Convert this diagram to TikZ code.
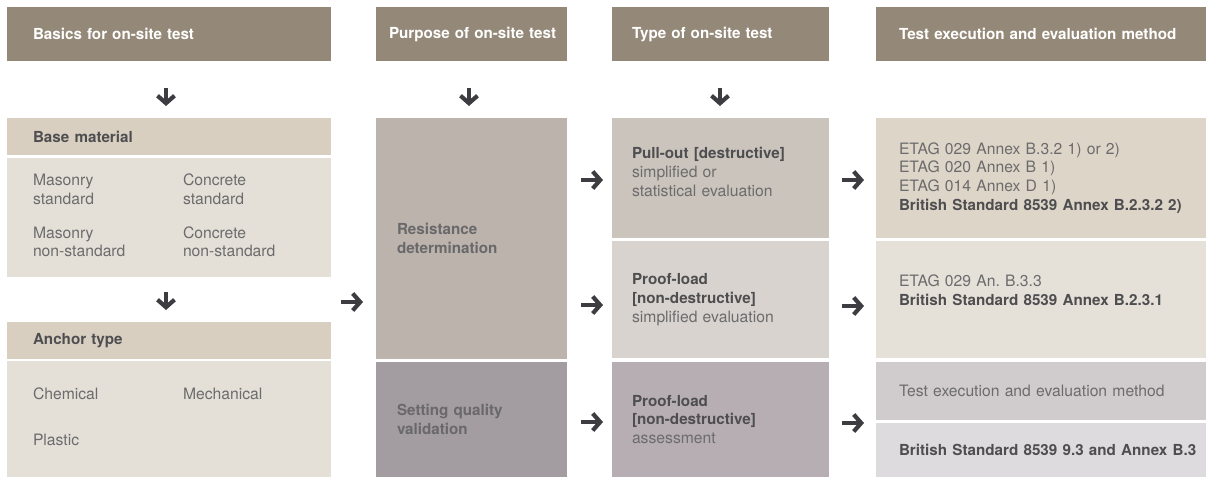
\documentclass[tikz,border=0pt]{standalone}
\usepackage{fontspec}
\setmainfont{TeX Gyre Heros}
\usetikzlibrary{arrows.meta,positioning}

\definecolor{headcol}{HTML}{948878}
\definecolor{basehead}{HTML}{D8CFC0}
\definecolor{basebody}{HTML}{E4E0D8}
\definecolor{resist}{HTML}{BBB3AC}
\definecolor{setting}{HTML}{A39CA0}
\definecolor{pull}{HTML}{CBC4BD}
\definecolor{proofA}{HTML}{D8D3CE}
\definecolor{proofB}{HTML}{B6AEB2}
\definecolor{etagA}{HTML}{DDD5C8}
\definecolor{etagB}{HTML}{E5E1D8}
\definecolor{bsA}{HTML}{D0CCCD}
\definecolor{bsB}{HTML}{DDDBDD}
\definecolor{txtdark}{HTML}{4E4D50}
\definecolor{txtlight}{HTML}{6C6B6D}
\definecolor{arrcol}{HTML}{3D3C40}

\newcommand{\bt}[1]{\textcolor{txtdark}{\fontsize{15.2}{18.7}\selectfont\bfseries #1}}
\newcommand{\oneline}[1]{\makebox[\linewidth][l]{#1}}

\begin{document}
\frenchspacing
\begin{tikzpicture}[x=1pt, y=-1pt, font=\fontsize{15.7}{18.7}\selectfont,
	box/.style={anchor=north west, inner ysep=0pt, outer sep=0pt, align=left, text=txtlight},
	head/.style={box, fill=headcol, minimum height=54pt, text=white, font=\fontsize{15.2}{18.7}\selectfont\bfseries},
	colA/.style={minimum width=324pt, text width=272pt, inner xsep=26pt},
	colB/.style={minimum width=191pt, text width=149pt, inner xsep=21pt},
	colC/.style={minimum width=217pt, text width=177pt, inner xsep=20pt},
	colD/.style={minimum width=330pt, text width=284pt, inner xsep=23pt},
	purp/.style={box, colB, text=txtdark!85, font=\fontsize{15.2}{18.7}\selectfont\bfseries},
	arr/.style={line width=4.2pt, draw=arrcol, -{Straight Barb[length=7.5pt, width=17pt]}}]
	\useasboundingbox (0,0) rectangle (1206,477);

	% column heads
	\node[head, colA] (hbasics) at (7,7) {Basics for on-site test};
	\node[head, colB, inner xsep=13pt, text width=165pt] (hpurpose) at (376,7) {\oneline{Purpose of on-site test}};
	\node[head, colC] (htype) at (612,7) {Type of on-site test};
	\node[head, colD] (hexec) at (876,7) {Test execution and evaluation method};

	% basics
	\node[box, colA, fill=basehead, minimum height=37pt] (basemat) at (7,118) {\bt{Base material}};
	\node[box, colA, fill=basebody, minimum height=119pt] (basemats) at (7,158)
		{\begin{tabular}{@{}p{150pt}@{}l@{}}
		Masonry & Concrete\\ standard & standard\\[15pt]
		Masonry & Concrete\\ non-standard & non-standard
		\end{tabular}};
	\node[box, colA, fill=basehead, minimum height=37pt] (anchor) at (7,322) {\bt{Anchor type}};
	\node[box, colA, fill=basebody, minimum height=116pt] (anchors) at (7,361)
		{\begin{tabular}{@{}p{150pt}@{}l@{}}
		Chemical & Mechanical\\[27pt]
		Plastic &
		\end{tabular}};

	% purpose
	\node[purp, fill=resist, minimum height=241pt] (resist) at (376,118) {Resistance\\determination};
	\node[purp, fill=setting, minimum height=115pt] (setting) at (376,362) {Setting quality\\validation};

	% type
	\node[box, colC, fill=pull, minimum height=120pt] (pull) at (612,118)
		{\bt{Pull-out [destructive]}\\simplified or\\statistical evaluation\\[-6.7pt]\mbox{}};
	\node[box, colC, fill=proofA, minimum height=117pt] (proofa) at (612,241)
		{\bt{Proof-load}\\\bt{[non-destructive]}\\simplified evaluation};
	\node[box, colC, fill=proofB, minimum height=115pt] (proofb) at (612,362)
		{\bt{Proof-load}\\\bt{[non-destructive]}\\assessment};

	% execution
	\node[box, colD, fill=etagA, minimum height=120pt] (etaga) at (876,118)
		{ETAG 029 Annex B.3.2 1) or 2)\\ETAG 020 Annex B 1)\\ETAG 014 Annex D 1)\\\oneline{\bt{British Standard 8539 Annex B.2.3.2 2)}}};
	\node[box, colD, fill=etagB, minimum height=117pt] (etagb) at (876,241)
		{ETAG 029 An. B.3.3\\\bt{British Standard 8539 Annex B.2.3.1}\\\mbox{}};
	\node[box, colD, fill=bsA, minimum height=58pt] (bsa) at (876,362) {Test execution and evaluation method};
	\node[box, colD, fill=bsB, minimum height=54pt] (bsb) at (876,423)
		{\oneline{\bt{British Standard 8539 9.3 and Annex B.3}}};

	% arrows
	\foreach \n/\x/\y in {dA/166/97, dB/469/97, dC/720/97, dD/166/301}{
		\coordinate (\n) at (\x,\y);
		\draw[arr] ([yshift=9pt]\n) -- ([yshift=-9pt]\n);
	}
	\foreach \n/\x/\y in {rA/352/302, rB/592/180, rC/592/305, rD/592/422, rE/853/180, rF/853/306, rG/853/423}{
		\coordinate (\n) at (\x,\y);
		\draw[arr] ([xshift=-11pt]\n) -- ([xshift=11pt]\n);
	}
\end{tikzpicture}
\end{document}
